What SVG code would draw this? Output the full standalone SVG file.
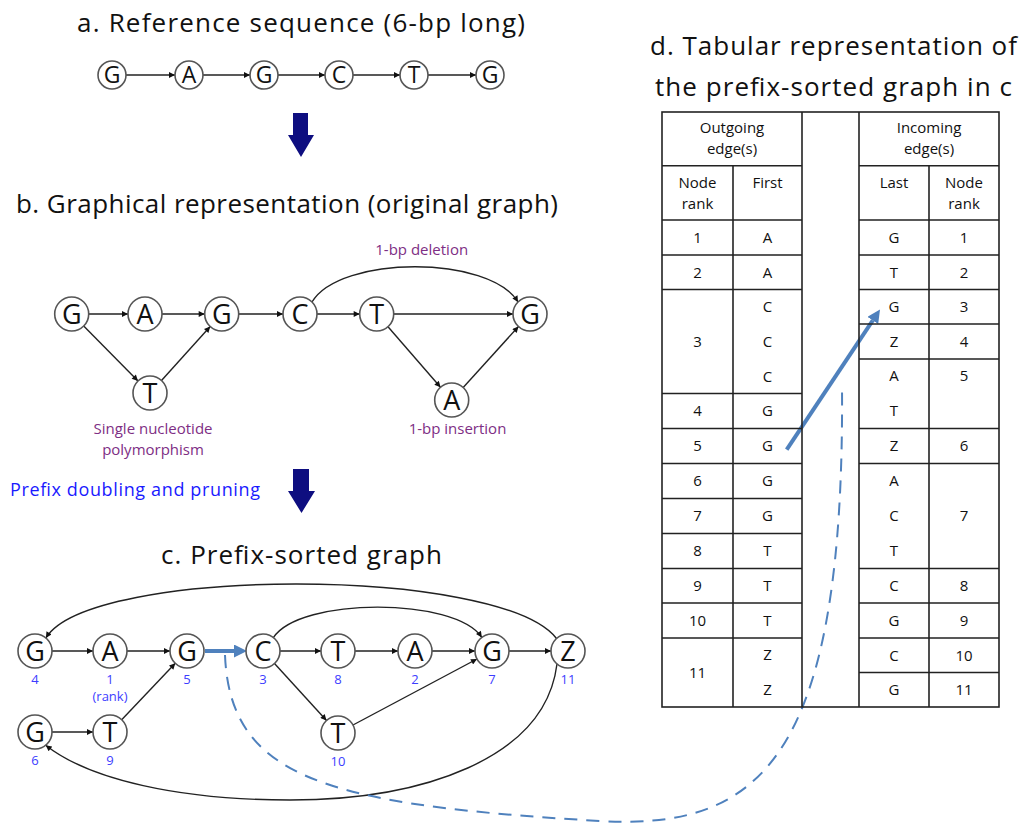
<svg xmlns="http://www.w3.org/2000/svg" width="1026" height="825" viewBox="0 0 1026 825">
<style>
text{font-family:"Open Sans","Noto Sans","Liberation Sans",sans-serif;}
.title{font-size:26px;fill:#111;}
.node circle{fill:#fff;stroke:#555;stroke-width:1.6;}
.la{font-size:23px;text-anchor:middle;fill:#111;}
.lb{font-size:27px;text-anchor:middle;fill:#111;}
.lc{font-size:27px;text-anchor:middle;fill:#111;}
.edge{fill:none;stroke:#222;stroke-width:1.4;marker-end:url(#ah);}
.purple{font-size:15px;fill:#7E2E84;text-anchor:middle;}
.rank{font-size:13px;fill:#3D3DFF;text-anchor:middle;}
.tl{stroke:#222;stroke-width:1.6;fill:none;}
.tt{font-size:15px;fill:#111;text-anchor:middle;}
.navy{fill:#0E0E80;}
</style>
<defs>
<marker id="ah" viewBox="0 0 10 10" refX="10" refY="5" markerWidth="7" markerHeight="6" orient="auto" markerUnits="userSpaceOnUse"><path d="M0,0 L10,5 L0,10 z" fill="#111"/></marker>
<marker id="bh" viewBox="0 0 10 10" refX="0" refY="5" markerWidth="13" markerHeight="13" orient="auto" markerUnits="userSpaceOnUse"><path d="M0,0 L10,5 L0,10 z" fill="#4F81BD"/></marker>
</defs>
<rect width="1026" height="825" fill="#fff"/>

<!-- Titles -->
<text class="title" x="77" y="32" textLength="448">a. Reference sequence (6-bp long)</text>
<text class="title" x="16" y="213" textLength="542">b. Graphical representation (original graph)</text>
<text class="title" x="161" y="564" textLength="281">c. Prefix-sorted graph</text>
<text class="title" x="650" y="55" textLength="367">d. Tabular representation of</text>
<text class="title" x="655" y="96" textLength="357">the prefix-sorted graph in c</text>

<!-- Big arrows -->
<polygon class="navy" points="293,113 308,113 308,135 314,135 301,157 288,135 293,135"/>
<polygon class="navy" points="293,469 309,469 309,491 315,491 301.5,513 288,491 293,491"/>
<text x="10" y="496" font-size="18" fill="#1A1AFF" textLength="250">Prefix doubling and pruning</text>

<!-- Connectors -->
<g id="connectors">
  <!-- a -->
  <line class="edge" x1="126" y1="75" x2="175" y2="75"/>
  <line class="edge" x1="203" y1="75" x2="250" y2="75"/>
  <line class="edge" x1="278" y1="75" x2="325" y2="75"/>
  <line class="edge" x1="353" y1="75" x2="400" y2="75"/>
  <line class="edge" x1="428" y1="75" x2="476" y2="75"/>
  <!-- b -->
  <line class="edge" x1="88.7" y1="314" x2="128" y2="314"/>
  <line class="edge" x1="162" y1="314" x2="204.7" y2="314"/>
  <line class="edge" x1="238.7" y1="314" x2="283" y2="314"/>
  <line class="edge" x1="317" y1="314" x2="359.7" y2="314"/>
  <line class="edge" x1="393.7" y1="314" x2="513" y2="314"/>
  <line class="edge" x1="83.7" y1="326" x2="138" y2="381"/>
  <line class="edge" x1="161.5" y1="380.5" x2="210.2" y2="326.5"/>
  <line class="edge" x1="388" y1="326.7" x2="440.5" y2="387.3"/>
  <line class="edge" x1="463.2" y1="387.5" x2="518.5" y2="326.5"/>
  <path class="edge" d="M312,302 C340,255 490,255 518,302"/>
  <!-- c -->
  <line class="edge" x1="52" y1="651" x2="93" y2="651"/>
  <line class="edge" x1="127" y1="651" x2="170" y2="651"/>
  <line class="edge" x1="280" y1="651" x2="321" y2="651"/>
  <line class="edge" x1="355" y1="651" x2="398" y2="651"/>
  <line class="edge" x1="432" y1="651" x2="475" y2="651"/>
  <line class="edge" x1="509" y1="651" x2="551" y2="651"/>
  <line class="edge" x1="274.5" y1="663.5" x2="326.5" y2="720.5"/>
  <line class="edge" x1="353" y1="725" x2="477" y2="659"/>
  <line class="edge" x1="52" y1="732" x2="93" y2="732"/>
  <line class="edge" x1="121.7" y1="719.7" x2="175.3" y2="663.3"/>
  <path class="edge" d="M273.4,637.6 C300,597 455,597 481.8,637.4"/>
  <path class="edge" d="M556.5,638.5 C500,566 90,566 45.9,637.9"/>
  <path class="edge" d="M557,664 C545,760 420,800 290,800 C180,800 90,780 45.7,745.2"/>
  <!-- blue -->
  <line x1="205" y1="651" x2="234" y2="651" stroke="#4F81BD" stroke-width="4" marker-end="url(#bh)"/>
  <path d="M225,655 C230,780 330,805 600,821 C760,830 845,760 842,384" fill="none" stroke="#4F81BD" stroke-width="2" stroke-dasharray="13,9"/>
  <line x1="786.7" y1="449.7" x2="872.8" y2="320.4" stroke="#4F81BD" stroke-width="4" marker-end="url(#bh)"/>
</g>

<!-- a nodes -->
<g id="a-n1" class="node"><circle cx="112" cy="75" r="14"/><text class="la" x="112" y="83">G</text></g>
<g id="a-n2" class="node"><circle cx="189" cy="75" r="14"/><text class="la" x="189" y="83">A</text></g>
<g id="a-n3" class="node"><circle cx="264" cy="75" r="14"/><text class="la" x="264" y="83">G</text></g>
<g id="a-n4" class="node"><circle cx="339" cy="75" r="14"/><text class="la" x="339" y="83">C</text></g>
<g id="a-n5" class="node"><circle cx="414" cy="75" r="14"/><text class="la" x="414" y="83">T</text></g>
<g id="a-n6" class="node"><circle cx="490" cy="75" r="14"/><text class="la" x="490" y="83">G</text></g>

<!-- b nodes -->
<g id="b-g1" class="node"><circle cx="71.7" cy="314" r="17"/><text class="lb" x="71.7" y="323.5">G</text></g>
<g id="b-a" class="node"><circle cx="145" cy="314" r="17"/><text class="lb" x="145" y="323.5">A</text></g>
<g id="b-g2" class="node"><circle cx="221.7" cy="314" r="17"/><text class="lb" x="221.7" y="323.5">G</text></g>
<g id="b-c" class="node"><circle cx="300" cy="314" r="17"/><text class="lb" x="300" y="323.5">C</text></g>
<g id="b-t" class="node"><circle cx="376.7" cy="314" r="17"/><text class="lb" x="376.7" y="323.5">T</text></g>
<g id="b-g3" class="node"><circle cx="530" cy="314" r="17"/><text class="lb" x="530" y="323.5">G</text></g>
<g id="b-tsnp" class="node"><circle cx="150" cy="393" r="17"/><text class="lb" x="150" y="402.5">T</text></g>
<g id="b-ains" class="node"><circle cx="451.7" cy="400" r="17"/><text class="lb" x="451.7" y="409.5">A</text></g>
<text class="purple" x="421.7" y="255">1-bp deletion</text>
<text class="purple" x="153" y="434">Single nucleotide</text>
<text class="purple" x="153" y="455">polymorphism</text>
<text class="purple" x="457.5" y="434">1-bp insertion</text>

<!-- c nodes -->
<g id="c-4" class="node"><circle cx="35" cy="651" r="17"/><text class="lc" x="35" y="660.5">G</text><text class="rank" x="35" y="684">4</text></g>
<g id="c-1" class="node"><circle cx="110" cy="651" r="17"/><text class="lc" x="110" y="660.5">A</text><text class="rank" x="110" y="684">1</text><text class="rank" x="110" y="701">(rank)</text></g>
<g id="c-5" class="node"><circle cx="187" cy="651" r="17"/><text class="lc" x="187" y="660.5">G</text><text class="rank" x="187" y="684">5</text></g>
<g id="c-3" class="node"><circle cx="263" cy="651" r="17"/><text class="lc" x="263" y="660.5">C</text><text class="rank" x="263" y="684">3</text></g>
<g id="c-8" class="node"><circle cx="338" cy="651" r="17"/><text class="lc" x="338" y="660.5">T</text><text class="rank" x="338" y="684">8</text></g>
<g id="c-2" class="node"><circle cx="415" cy="651" r="17"/><text class="lc" x="415" y="660.5">A</text><text class="rank" x="415" y="684">2</text></g>
<g id="c-7" class="node"><circle cx="492" cy="651" r="17"/><text class="lc" x="492" y="660.5">G</text><text class="rank" x="492" y="684">7</text></g>
<g id="c-11" class="node"><circle cx="568" cy="651" r="17"/><text class="lc" x="568" y="660.5">Z</text><text class="rank" x="568" y="684">11</text></g>
<g id="c-6" class="node"><circle cx="35" cy="732" r="17"/><text class="lc" x="35" y="741.5">G</text><text class="rank" x="35" y="765">6</text></g>
<g id="c-9" class="node"><circle cx="110" cy="732" r="17"/><text class="lc" x="110" y="741.5">T</text><text class="rank" x="110" y="765">9</text></g>
<g id="c-10" class="node"><circle cx="338" cy="733" r="17"/><text class="lc" x="338" y="742.5">T</text><text class="rank" x="338" y="766">10</text></g>

<!-- d table -->
<g id="table">
  <rect class="tl" x="662" y="112" width="337" height="595"/>
  <line class="tl" x1="802" y1="112" x2="802" y2="707"/>
  <line class="tl" x1="859" y1="112" x2="859" y2="707"/>
  <line class="tl" x1="733" y1="165.7" x2="733" y2="707"/>
  <line class="tl" x1="929" y1="165.7" x2="929" y2="707"/>
  <path class="tl" d="M662,165.7H802 M662,220H802 M662,255H802 M662,289.5H802 M662,393.5H802 M662,428.5H802 M662,463.5H802 M662,498.5H802 M662,533.5H802 M662,568.5H802 M662,603H802 M662,638H802"/>
  <path class="tl" d="M859,165.7H999 M859,220H999 M859,255H999 M859,289.5H999 M859,324H999 M859,359H999 M859,428.5H999 M859,463.5H999 M859,568.5H999 M859,603H999 M859,638H999 M859,672.5H999"/>
  <text class="tt" x="732" y="133">Outgoing</text><text class="tt" x="732" y="154">edge(s)</text>
  <text class="tt" x="929" y="133">Incoming</text><text class="tt" x="929" y="154">edge(s)</text>
  <text class="tt" x="697.5" y="188">Node</text><text class="tt" x="697.5" y="209">rank</text>
  <text class="tt" x="767.5" y="188">First</text>
  <text class="tt" x="894" y="188">Last</text>
  <text class="tt" x="964" y="188">Node</text><text class="tt" x="964" y="209">rank</text>
  <!-- left values -->
  <text class="tt" x="697.5" y="243">1</text><text class="tt" x="767.5" y="243">A</text>
  <text class="tt" x="697.5" y="277.6">2</text><text class="tt" x="767.5" y="277.6">A</text>
  <text class="tt" x="697.5" y="347">3</text><text class="tt" x="767.5" y="312">C</text><text class="tt" x="767.5" y="347">C</text><text class="tt" x="767.5" y="381.6">C</text>
  <text class="tt" x="697.5" y="416.4">4</text><text class="tt" x="767.5" y="416.4">G</text>
  <text class="tt" x="697.5" y="451.4">5</text><text class="tt" x="767.5" y="451.4">G</text>
  <text class="tt" x="697.5" y="486.4">6</text><text class="tt" x="767.5" y="486.4">G</text>
  <text class="tt" x="697.5" y="521.4">7</text><text class="tt" x="767.5" y="521.4">G</text>
  <text class="tt" x="697.5" y="556.4">8</text><text class="tt" x="767.5" y="556.4">T</text>
  <text class="tt" x="697.5" y="591">9</text><text class="tt" x="767.5" y="591">T</text>
  <text class="tt" x="697.5" y="626">10</text><text class="tt" x="767.5" y="626">T</text>
  <text class="tt" x="697.5" y="678">11</text><text class="tt" x="767.5" y="660.4">Z</text><text class="tt" x="767.5" y="695.4">Z</text>
  <!-- right values -->
  <text class="tt" x="894" y="243">G</text><text class="tt" x="964" y="243">1</text>
  <text class="tt" x="894" y="277.6">T</text><text class="tt" x="964" y="277.6">2</text>
  <text class="tt" x="894" y="312">G</text><text class="tt" x="964" y="312">3</text>
  <text class="tt" x="894" y="347">Z</text><text class="tt" x="964" y="347">4</text>
  <text class="tt" x="894" y="381.4">A</text><text class="tt" x="894" y="416.4">T</text><text class="tt" x="964" y="381.4">5</text>
  <text class="tt" x="894" y="451.4">Z</text><text class="tt" x="964" y="451.4">6</text>
  <text class="tt" x="894" y="486.4">A</text><text class="tt" x="894" y="521.4">C</text><text class="tt" x="894" y="556.4">T</text><text class="tt" x="964" y="521.4">7</text>
  <text class="tt" x="894" y="591">C</text><text class="tt" x="964" y="591">8</text>
  <text class="tt" x="894" y="626">G</text><text class="tt" x="964" y="626">9</text>
  <text class="tt" x="894" y="660.6">C</text><text class="tt" x="964" y="660.6">10</text>
  <text class="tt" x="894" y="695">G</text><text class="tt" x="964" y="695">11</text>
</g>
</svg>
